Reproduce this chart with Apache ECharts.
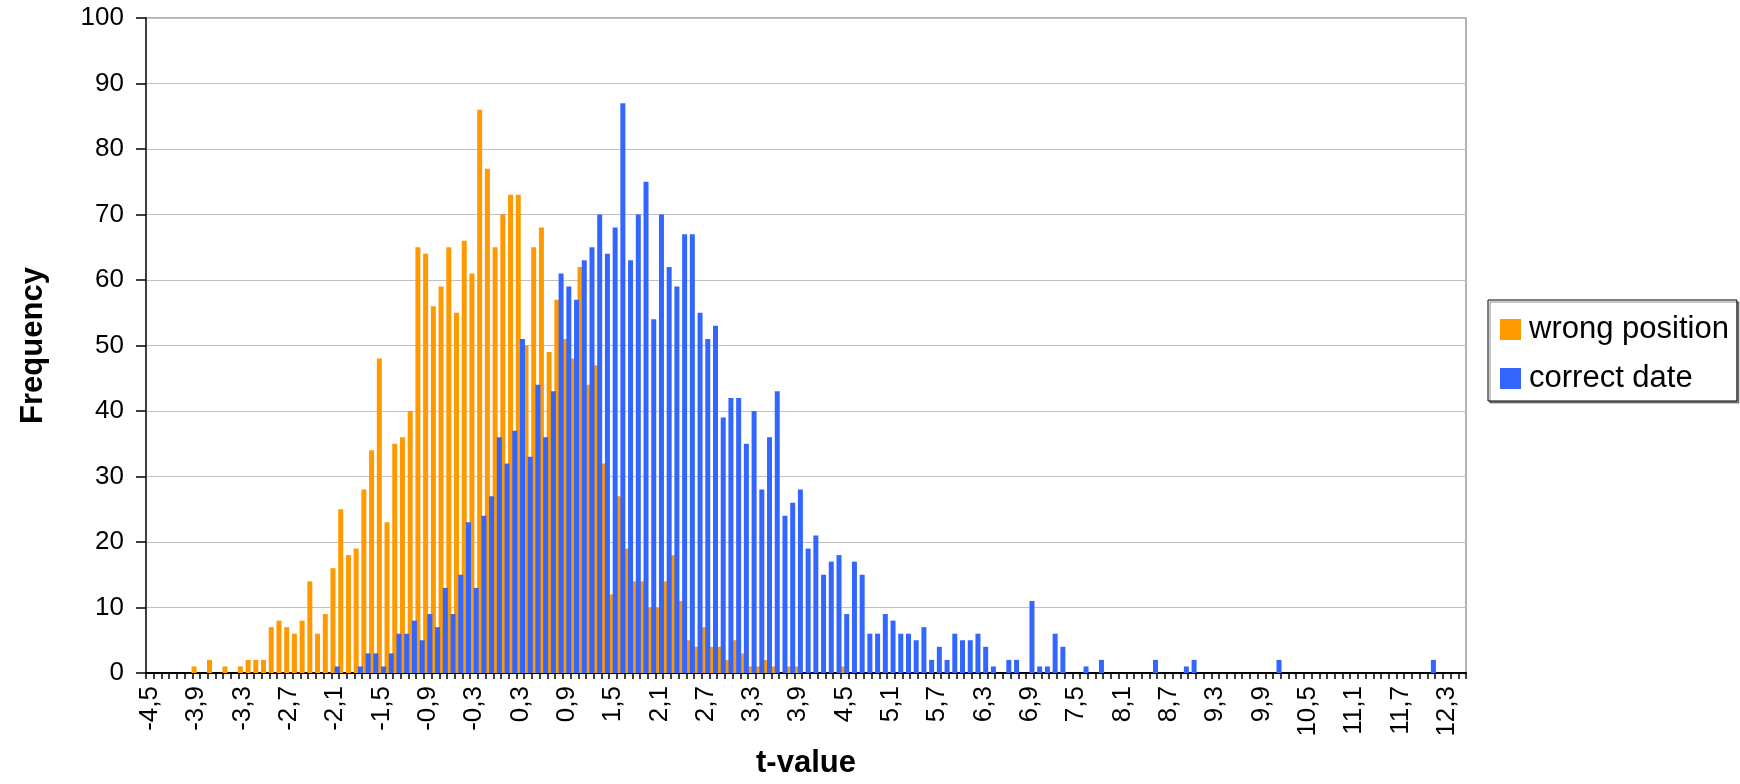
<!DOCTYPE html>
<html>
<head>
<meta charset="utf-8">
<script src="https://cdn.jsdelivr.net/npm/echarts@6/dist/echarts.min.js"></script>
<style>
html,body{margin:0;padding:0;background:#fff;}
#chart{width:1740px;height:784px;}
</style>
</head>
<body>
<div id="chart"></div>
<script>
// Category (bin) labels: t-value from -4,5 to 12,5 in steps of 0,1
const categories = [
"-4,5","-4,4","-4,3","-4,2","-4,1","-4","-3,9","-3,8","-3,7","-3,6",
"-3,5","-3,4","-3,3","-3,2","-3,1","-3","-2,9","-2,8","-2,7","-2,6",
"-2,5","-2,4","-2,3","-2,2","-2,1","-2","-1,9","-1,8","-1,7","-1,6",
"-1,5","-1,4","-1,3","-1,2","-1,1","-1","-0,9","-0,8","-0,7","-0,6",
"-0,5","-0,4","-0,3","-0,2","-0,1","0","0,1","0,2","0,3","0,4",
"0,5","0,6","0,7","0,8","0,9","1","1,1","1,2","1,3","1,4",
"1,5","1,6","1,7","1,8","1,9","2","2,1","2,2","2,3","2,4",
"2,5","2,6","2,7","2,8","2,9","3","3,1","3,2","3,3","3,4",
"3,5","3,6","3,7","3,8","3,9","4","4,1","4,2","4,3","4,4",
"4,5","4,6","4,7","4,8","4,9","5","5,1","5,2","5,3","5,4",
"5,5","5,6","5,7","5,8","5,9","6","6,1","6,2","6,3","6,4",
"6,5","6,6","6,7","6,8","6,9","7","7,1","7,2","7,3","7,4",
"7,5","7,6","7,7","7,8","7,9","8","8,1","8,2","8,3","8,4",
"8,5","8,6","8,7","8,8","8,9","9","9,1","9,2","9,3","9,4",
"9,5","9,6","9,7","9,8","9,9","10","10,1","10,2","10,3","10,4",
"10,5","10,6","10,7","10,8","10,9","11","11,1","11,2","11,3","11,4",
"11,5","11,6","11,7","11,8","11,9","12","12,1","12,2","12,3","12,4",
"12,5"
];

const wrongPosition = [
0,0,0,0,0,0,1,0,2,0,
1,0,1,2,2,2,7,8,7,6,
8,14,6,9,16,25,18,19,28,34,
48,23,35,36,40,65,64,56,59,65,
55,66,61,86,77,65,70,73,73,50,
65,68,49,57,51,48,62,44,47,32,
12,27,19,14,14,10,10,14,18,11,
5,4,7,4,4,2,5,3,1,1,
2,1,0,1,1,0,0,0,0,0,
1,0,0,0,0,0,0,0,0,0,
0,0,0,0,0,0,0,0,0,0,
0,0,0,0,0,0,0,0,0,0,
0,0,0,0,0,0,0,0,0,0,
0,0,0,0,0,0,0,0,0,0,
0,0,0,0,0,0,0,0,0,0,
0,0,0,0,0,0,0,0,0,0,
0,0,0,0,0,0,0,0,0,0,
0
];

const correctDate = [
0,0,0,0,0,0,0,0,0,0,
0,0,0,0,0,0,0,0,0,0,
0,0,0,0,1,0,0,1,3,3,
1,3,6,6,8,5,9,7,13,9,
15,23,13,24,27,36,32,37,51,33,
44,36,43,61,59,57,63,65,70,64,
68,87,63,70,75,54,70,62,59,67,
67,55,51,53,39,42,42,35,40,28,
36,43,24,26,28,19,21,15,17,18,
9,17,15,6,6,9,8,6,6,5,
7,2,4,2,6,5,5,6,4,1,
0,2,2,0,11,1,1,6,4,0,
0,1,0,2,0,0,0,0,0,0,
2,0,0,0,1,2,0,0,0,0,
0,0,0,0,0,0,2,0,0,0,
0,0,0,0,0,0,0,0,0,0,
0,0,0,0,0,0,2,0,0,0,
0
];

const seriesNames = ["wrong position", "correct date"];
const FONT = "'Liberation Sans', Arial, sans-serif";

const chart = echarts.init(document.getElementById('chart'), null, {renderer: 'canvas'});
chart.setOption({
  animation: false,
  backgroundColor: '#ffffff',
  textStyle: {fontFamily: FONT},
  grid: {
    left: 146, top: 18, width: 1320, height: 660,
    show: true, borderColor: '#9a9a9a', borderWidth: 1.5, backgroundColor: '#ffffff'
  },
  legend: {
    orient: 'vertical',
    left: 1488, top: 300,
    padding: [14, 8, 7, 12],
    itemWidth: 21, itemHeight: 21, itemGap: 18,
    icon: 'rect',
    backgroundColor: '#ffffff',
    borderColor: '#000000', borderWidth: 1,
    shadowColor: 'rgba(0,0,0,0.45)', shadowOffsetX: 2, shadowOffsetY: 2, shadowBlur: 0,
    textStyle: {fontSize: 31, lineHeight: 30, color: '#000', fontFamily: FONT, padding: [0,0,0,3]},
    data: seriesNames
  },
  xAxis: {
    type: 'category',
    data: categories,
    boundaryGap: true,
    name: 't-value',
    nameLocation: 'middle',
    nameGap: 75,
    nameTextStyle: {fontSize: 31, fontWeight: 'bold', color: '#000', fontFamily: FONT},
    axisLine: {show: true, lineStyle: {color: '#000', width: 2}},
    axisTick: {show: true, interval: 0, alignWithLabel: false, length: 6, lineStyle: {color: '#000', width: 1.5}},
    axisLabel: {interval: 5, rotate: 90, fontSize: 26, color: '#000', margin: 13, fontFamily: FONT},
    splitLine: {show: false}
  },
  yAxis: {
    type: 'value',
    min: 0, max: 100, interval: 10,
    name: 'Frequency',
    nameLocation: 'middle',
    nameGap: 97,
    nameRotate: 90,
    nameTextStyle: {fontSize: 31, fontWeight: 'bold', color: '#000', fontFamily: FONT},
    axisLine: {show: true, lineStyle: {color: '#404040', width: 2}},
    axisTick: {show: true, length: 10, lineStyle: {color: '#000', width: 1.5}},
    axisLabel: {fontSize: 26, color: '#000', margin: 22, fontFamily: FONT},
    splitLine: {show: true, lineStyle: {color: '#c0c0c0', width: 1}}
  },
  series: [
    {
      name: seriesNames[0], type: 'bar', data: wrongPosition,
      barWidth: 5, barGap: '-15%',
      itemStyle: {color: '#FF9900'}
    },
    {
      name: seriesNames[1], type: 'bar', data: correctDate,
      barWidth: 5, barGap: '-15%',
      itemStyle: {color: '#3366FF'}
    }
  ]
});
</script>
</body>
</html>
